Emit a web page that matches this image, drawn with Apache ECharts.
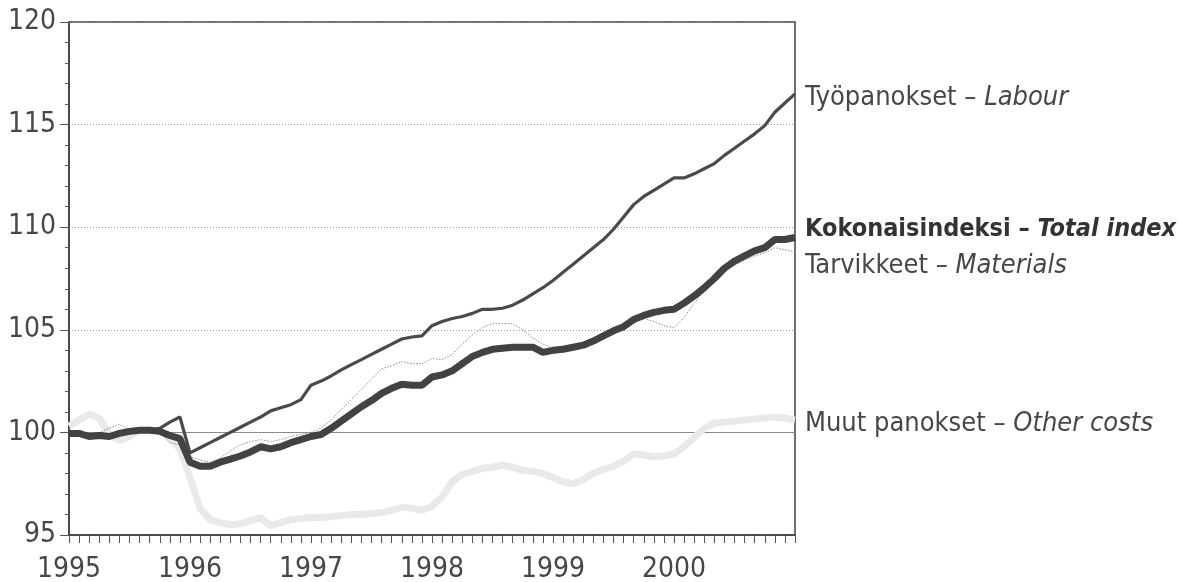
<!DOCTYPE html>
<html>
<head>
<meta charset="utf-8">
<script src="https://cdn.jsdelivr.net/npm/echarts@6/dist/echarts.min.js"></script>
<style>
  html, body { margin: 0; padding: 0; background: #fff; }
  #main { width: 1179px; height: 582px; }
</style>
</head>
<body>
<div id="main"></div>
<script>
var years = ['1995', '1996', '1997', '1998', '1999', '2000'];

// kuukausittaiset havainnot, 1995-01 ... 2001-01
var labour = [100.0, 99.95, 99.85, 99.9, 99.85, 99.95, 100.05, 100.1, 100.1, 100.2, 100.5, 100.75,
  99.0, 99.25, 99.5, 99.75, 100.0, 100.25, 100.5, 100.75, 101.05, 101.2, 101.35, 101.6,
  102.3, 102.5, 102.75, 103.05, 103.3, 103.55, 103.8, 104.05, 104.3, 104.55, 104.65, 104.7,
  105.2, 105.4, 105.55, 105.65, 105.8, 106.0, 106.0, 106.05, 106.2, 106.45, 106.75, 107.05,
  107.4, 107.8, 108.2, 108.6, 109.0, 109.4, 109.9, 110.5, 111.1, 111.5, 111.8, 112.1,
  112.4, 112.4, 112.6, 112.85, 113.1, 113.5, 113.85, 114.2, 114.55, 114.95, 115.6, 116.05,
  116.5];
var total = [99.95, 99.95, 99.8, 99.85, 99.8, 99.95, 100.05, 100.1, 100.1, 100.05, 99.85, 99.7,
  98.55, 98.35, 98.35, 98.55, 98.7, 98.85, 99.05, 99.3, 99.2, 99.3, 99.5, 99.65,
  99.8, 99.9, 100.2, 100.55, 100.9, 101.25, 101.55, 101.9, 102.15, 102.35, 102.3, 102.3,
  102.7, 102.8, 103.0, 103.35, 103.7, 103.9, 104.05, 104.1, 104.15, 104.15, 104.15, 103.9,
  104.0, 104.05, 104.15, 104.25, 104.45, 104.7, 104.95, 105.15, 105.5, 105.7, 105.85, 105.95,
  106.0, 106.3, 106.65, 107.05, 107.5, 108.0, 108.35, 108.6, 108.85, 109.0, 109.4, 109.4,
  109.5];
var materials = [99.95, 100.0, 99.9, 100.0, 100.2, 100.4, 100.1, 100.0, 100.1, 100.0, 99.5, 99.4,
  98.8, 98.65, 98.55, 98.75, 99.1, 99.4, 99.55, 99.65, 99.55, 99.65, 99.8, 99.9,
  100.0, 100.2, 100.6, 101.1, 101.6, 102.1, 102.6, 103.1, 103.25, 103.45, 103.35, 103.35,
  103.6, 103.55, 103.8, 104.3, 104.75, 105.1, 105.3, 105.3, 105.3, 105.0, 104.6, 104.3,
  104.1, 104.05, 104.15, 104.25, 104.45, 104.65, 104.9, 105.1, 105.4, 105.55, 105.4, 105.2,
  105.1, 105.6, 106.3, 106.9, 107.5, 107.9, 108.15, 108.4, 108.6, 108.75, 109.0, 108.9,
  108.8];
var other = [100.3, 100.6, 100.9, 100.7, 99.9, 99.6, 99.8, 100.1, 100.1, 100.1, 99.7, 99.2,
  97.8, 96.3, 95.75, 95.6, 95.5, 95.55, 95.7, 95.85, 95.45, 95.6, 95.75, 95.8,
  95.85, 95.85, 95.9, 95.95, 96.0, 96.0, 96.05, 96.1, 96.2, 96.35, 96.3, 96.2,
  96.4, 96.85, 97.6, 97.95, 98.1, 98.25, 98.3, 98.4, 98.3, 98.15, 98.1, 98.0,
  97.8, 97.6, 97.5, 97.7, 98.0, 98.2, 98.35, 98.6, 98.95, 98.9, 98.8, 98.85,
  98.95, 99.3, 99.75, 100.2, 100.45, 100.5, 100.55, 100.6, 100.65, 100.7, 100.75, 100.7,
  100.6];

var months = [];
years.forEach(function (y) {
  for (var m = 1; m <= 12; m++) months.push(y + '-' + (m < 10 ? '0' + m : m));
});
months.push('2001-01');

var fnt = '"Liberation Sans Narrow", "DejaVu Sans Condensed", sans-serif';
var txt = '#474747';

function rich(size, bold, color) {
  return {
    n: { fontSize: size, fontFamily: fnt, fontWeight: bold ? 'bold' : 'normal', fill: color },
    i: { fontSize: size, fontFamily: fnt, fontWeight: bold ? 'bold' : 'normal', fontStyle: 'italic', fill: color }
  };
}

var myChart = echarts.init(document.getElementById('main'));
myChart.setOption({
  animation: false,
  grid: { left: 69, right: 384, top: 22, bottom: 47, outerBoundsMode: 'none',
    show: true, borderColor: '#3f3f3f', borderWidth: 1.5 },
  xAxis: {
    type: 'category',
    data: months,
    boundaryGap: false,
    axisLine: { lineStyle: { color: '#3f3f3f', width: 1.5 } },
    axisTick: { interval: 0, length: 8, lineStyle: { color: '#555' } },
    axisLabel: {
      interval: 0, margin: 21, fontSize: 28, fontFamily: fnt, color: txt,
      formatter: function (v, i) { return (i % 12 === 0 && i < 72) ? v.slice(0, 4) : ''; }
    },
    splitLine: { show: false }
  },
  yAxis: {
    type: 'value', min: 95, max: 120, interval: 5,
    axisLine: { show: true, lineStyle: { color: '#3f3f3f', width: 1.5 } },
    axisTick: { show: true, length: 9, lineStyle: { color: '#555' } },
    minorTick: { show: true, splitNumber: 5, length: 4, lineStyle: { color: '#555' } },
    axisLabel: { margin: 13, fontSize: 28, fontFamily: fnt, color: txt },
    splitLine: { lineStyle: { color: '#9a9a9a', type: [1, 2], width: 1 } }
  },
  series: [
    {
      name: 'Muut panokset', type: 'line', data: other, symbol: 'none', z: 3,
      lineStyle: { color: '#e9e9e9', width: 7 },
      markLine: {
        silent: true, symbol: 'none', z: 2, label: { show: false },
        lineStyle: { color: '#8a8a8a', type: 'solid', width: 1 },
        data: [{ yAxis: 100 }]
      }
    },
    { name: 'Tarvikkeet', type: 'line', data: materials, symbol: 'none', z: 4,
      lineStyle: { color: '#8c8c8c', width: 1, type: [1.5, 1.5] } },
    { name: 'Työpanokset', type: 'line', data: labour, symbol: 'none', z: 5,
      lineStyle: { color: '#4a4a4a', width: 3.2 } },
    { name: 'Kokonaisindeksi', type: 'line', data: total, symbol: 'none', z: 6,
      lineStyle: { color: '#424242', width: 7 } }
  ],
  graphic: [
    { type: 'text', left: 805, top: 84, style: { text: '{n|Työpanokset – }{i|Labour}', rich: rich(27, false, txt) } },
    { type: 'text', left: 805, top: 217, style: { text: '{n|Kokonaisindeksi – }{i|Total index}', rich: rich(25, true, '#333') } },
    { type: 'text', left: 805, top: 252, style: { text: '{n|Tarvikkeet – }{i|Materials}', rich: rich(27, false, txt) } },
    { type: 'text', left: 805, top: 410, style: { text: '{n|Muut panokset – }{i|Other costs}', rich: rich(27, false, txt) } }
  ]
});
</script>
</body>
</html>
